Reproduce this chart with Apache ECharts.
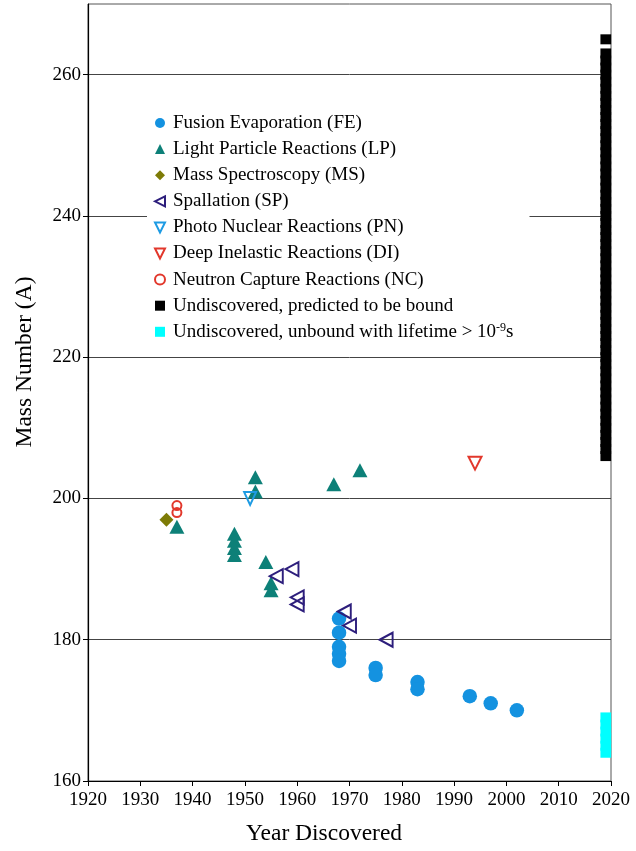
<!DOCTYPE html>
<html>
<head>
<meta charset="utf-8">
<script src="https://cdn.jsdelivr.net/npm/echarts@6/dist/echarts.min.js"></script>
<style>
  html, body { margin: 0; padding: 0; background: #fff; }
  #chart { width: 636px; height: 851px; }
</style>
</head>
<body>
<div id="chart"></div>
<script>
  // discovery year / mass number pairs
  const fusionEvaporation = [[1968, 183], [1968, 181], [1968, 179], [1968, 178], [1968, 177],
    [1975, 176], [1975, 175], [1983, 174], [1983, 173], [1993, 172], [1997, 171], [2002, 170]]
  const lightParticle = [[1937, 196], [1948, 195], [1948, 194], [1948, 193], [1948, 192],
    [1952, 203], [1952, 201], [1954, 191], [1955, 188], [1955, 187], [1967, 202], [1972, 204]]
  const massSpectroscopy = [[1935, 197]]
  const spallation = [[1956, 189], [1959, 190], [1960, 186], [1960, 185], [1969, 184], [1970, 182], [1977, 180]]
  const photoNuclear = [[1951, 200]]
  const deepInelastic = [[1994, 205]]
  const neutronCapture = [[1937, 199], [1937, 198]]

  // undiscovered isotopes, all drawn in the year column 2019
  const undiscoveredYear = 2019
  const boundMass = [206, 207, 208, 209, 210, 211, 212, 213, 214, 215, 216, 217, 218, 219, 220,
    221, 222, 223, 224, 225, 226, 227, 228, 229, 230, 231, 232, 233, 234, 235, 236, 237, 238,
    239, 240, 241, 242, 243, 244, 245, 246, 247, 248, 249, 250, 251, 252, 253, 254, 255, 256,
    257, 258, 259, 260, 261, 262, 263, 265]
  const unboundMass = [164, 165, 166, 167, 168, 169]

  const yTicks = [160, 180, 200, 220, 240, 260]
  const legendNames = [
    'Fusion Evaporation (FE)',
    'Light Particle Reactions (LP)',
    'Mass Spectroscopy (MS)',
    'Spallation (SP)',
    'Photo Nuclear Reactions (PN)',
    'Deep Inelastic Reactions (DI)',
    'Neutron Capture Reactions (NC)',
    'Undiscovered, predicted to be bound',
    'Undiscovered, unbound with lifetime > 10^-9s',
  ]

  const font = 'Liberation Serif'
  const hollow = (c) => ({ color: 'rgba(0,0,0,0)', borderColor: c, borderWidth: 2, opacity: 1 })
  // legend icons for the rotated triangles (legend does not rotate them itself)
  const leftTri = 'path://M0,5L10,0L10,10Z'
  const downTri = 'path://M0,0L10,0L5,10Z'

  const chart = echarts.init(document.getElementById('chart'))
  chart.setOption({
    animation: false,
    grid: { left: 88, right: 25, top: 4, bottom: 69, show: true, borderColor: '#555', borderWidth: 1 },
    legend: {
      orient: 'vertical',
      left: 147,
      top: 103,
      padding: [10, 16, 10, 7],
      backgroundColor: '#fff',
      itemWidth: 10,
      itemHeight: 10,
      itemGap: 6.1,
      selectedMode: false,
      data: legendNames.map((n, i) => {
        if (i === 3) return { name: n, icon: leftTri }
        if (i === 4 || i === 5) return { name: n, icon: downTri }
        return { name: n }
      }),
      formatter: (name) => {
        if (name.indexOf('10^-9') >= 0) return 'Undiscovered, unbound with lifetime > 10{sup|-9}s'
        return name
      },
      textStyle: {
        fontFamily: font,
        fontSize: 19,
        lineHeight: 20,
        color: '#000',
        padding: [0, 0, 0, 3],
        rich: {
          sup: { fontFamily: font, fontSize: 12, lineHeight: 12, verticalAlign: 'top', color: '#000' },
        },
      },
    },
    xAxis: {
      type: 'value',
      min: 1920,
      max: 2020,
      interval: 10,
      name: 'Year Discovered',
      nameLocation: 'middle',
      nameGap: 41,
      nameTextStyle: { fontFamily: font, fontSize: 23.5, color: '#000', padding: [0, 51, 0, 0] },
      axisLine: { lineStyle: { color: '#000', width: 1.2 } },
      axisTick: { length: 5, lineStyle: { color: '#000' } },
      axisLabel: { fontFamily: font, fontSize: 19, color: '#000', margin: 10, formatter: (v) => String(v) },
      splitLine: { show: false },
    },
    yAxis: {
      type: 'value',
      min: 160,
      max: 270,
      interval: 20,
      name: 'Mass Number (A)',
      nameLocation: 'middle',
      nameGap: 51,
      nameTextStyle: { fontFamily: font, fontSize: 23.5, color: '#000', padding: [0, 0, 0, 61] },
      axisLine: { lineStyle: { color: '#000', width: 1.2 } },
      axisTick: { length: 5, customValues: yTicks, lineStyle: { color: '#000' } },
      axisLabel: { fontFamily: font, fontSize: 19, color: '#000', margin: 7, customValues: yTicks },
      splitLine: { show: true, lineStyle: { color: '#444', width: 1 } },
    },
    series: [
      {
        name: legendNames[0], type: 'scatter', symbol: 'circle', symbolSize: 14.5,
        itemStyle: { color: '#1492e0', opacity: 1 }, data: fusionEvaporation,
      },
      {
        name: legendNames[1], type: 'scatter', symbol: 'triangle', symbolSize: [15, 14],
        itemStyle: { color: '#0d8078', opacity: 1 }, data: lightParticle,
      },
      {
        name: legendNames[2], type: 'scatter', symbol: 'diamond', symbolSize: 14,
        itemStyle: { color: '#7d7b06', opacity: 1 }, data: massSpectroscopy,
      },
      {
        name: legendNames[3], type: 'scatter', symbol: 'triangle', symbolRotate: 90, symbolSize: [14, 13],
        itemStyle: hollow('#2d1e7c'), data: spallation,
      },
      {
        name: legendNames[4], type: 'scatter', symbol: 'triangle', symbolRotate: 180, symbolSize: [12, 13],
        itemStyle: hollow('#1e9be3'), data: photoNuclear,
      },
      {
        name: legendNames[5], type: 'scatter', symbol: 'triangle', symbolRotate: 180, symbolSize: [13, 13],
        itemStyle: hollow('#e2382c'), data: deepInelastic,
      },
      {
        name: legendNames[6], type: 'scatter', symbol: 'circle', symbolSize: 9,
        itemStyle: hollow('#e2382c'), data: neutronCapture,
      },
      {
        name: legendNames[7], type: 'scatter', symbol: 'rect', symbolSize: [10.7, 10],
        itemStyle: { color: '#000', opacity: 1 }, data: boundMass.map((a) => [undiscoveredYear, a]),
      },
      {
        name: legendNames[8], type: 'scatter', symbol: 'rect', symbolSize: [10.7, 10],
        itemStyle: { color: '#00ffff', opacity: 1 }, data: unboundMass.map((a) => [undiscoveredYear, a]),
      },
    ],
  })
</script>
</body>
</html>
